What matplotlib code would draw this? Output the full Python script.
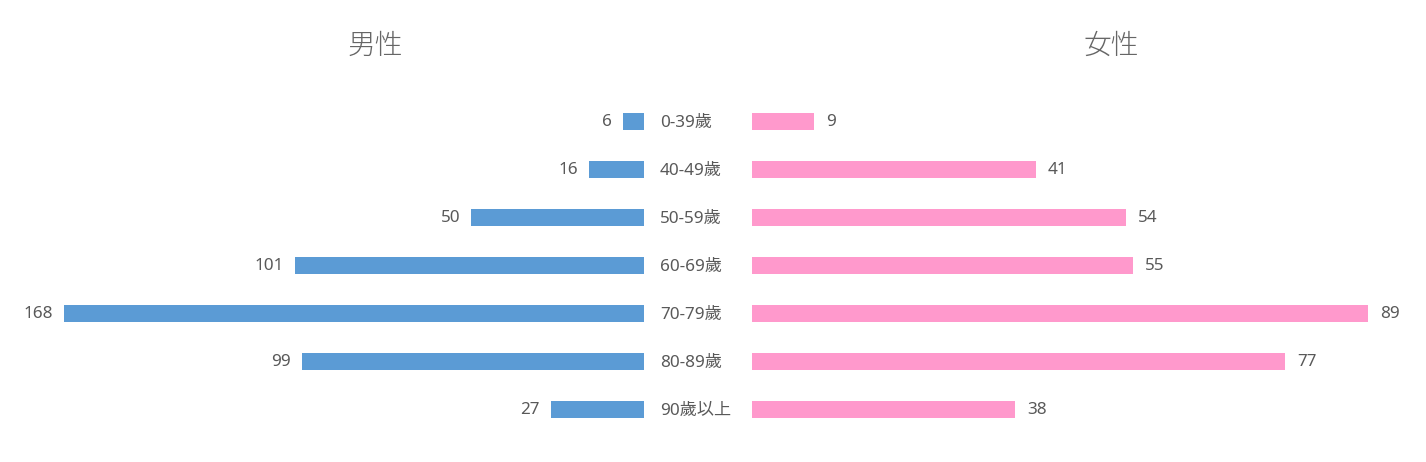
import matplotlib
matplotlib.use("Agg")
import matplotlib.pyplot as plt

categories = ["0-39歲", "40-49歲", "50-59歲", "60-69歲", "70-79歲", "80-89歲", "90歲以上"]
male = [6, 16, 50, 101, 168, 99, 27]
female = [9, 41, 54, 55, 89, 77, 38]

male_color = "#5B9BD5"
female_color = "#FF99CC"
text_color = "#595959"
fonts = ["Noto Sans", "Noto Sans CJK JP", "DejaVu Sans"]
plt.rcParams["font.family"] = fonts

W, H = 1426, 462
fig = plt.figure(figsize=(W / 100, H / 100), dpi=100)

top_px, bot_px = 97.5, 433.5
ax_b = 1 - bot_px / H
ax_h = (bot_px - top_px) / H

axL = fig.add_axes([64 / W, ax_b, (644 - 64) / W, ax_h])
axR = fig.add_axes([752 / W, ax_b, (1368 - 752) / W, ax_h])

y = list(range(len(categories)))
bh = 17 / 48

axL.barh(y, male, height=bh, color=male_color)
axL.set_xlim(max(male), 0)
axR.barh(y, female, height=bh, color=female_color)
axR.set_xlim(0, max(female))

for ax in (axL, axR):
    ax.set_ylim(len(categories) - 0.5, -0.5)
    ax.axis("off")

fs = 12.3
for yi, v in zip(y, male):
    axL.annotate(str(v), (v, yi), xytext=(-11, -1), textcoords="offset pixels",
                 ha="right", va="center", fontsize=fs, color=text_color)

for yi, v in zip(y, female):
    axR.annotate(str(v), (v, yi), xytext=(12, -1), textcoords="offset pixels",
                 ha="left", va="center", fontsize=fs, color=text_color)

for yi, c in zip(y, categories):
    axL.annotate(c, (0, yi), xytext=(16, -1), textcoords="offset pixels",
                 ha="left", va="center", fontsize=fs, color=text_color,
                 annotation_clip=False)

fig.text(375 / W, 1 - 47 / H, "男性", ha="center", va="center", fontsize=20,
         color="#666666", fontweight="light")
fig.text(1111 / W, 1 - 47 / H, "女性", ha="center", va="center", fontsize=20,
         color="#666666", fontweight="light")

fig.savefig("out.png", dpi=100, facecolor="white")
